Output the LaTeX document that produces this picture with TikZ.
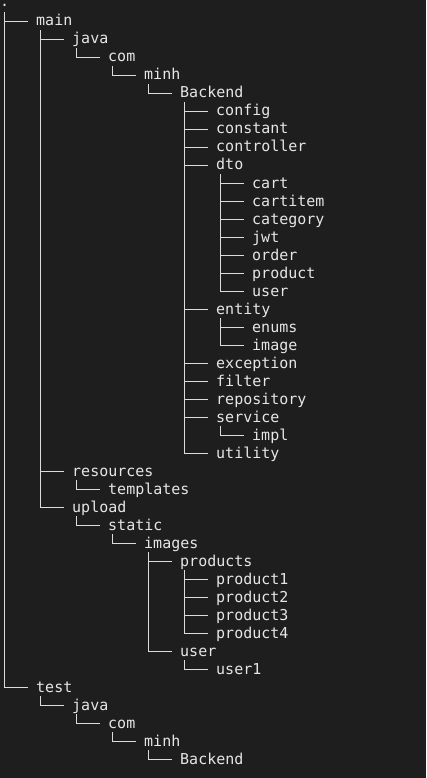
\documentclass[tikz,border=0pt]{standalone}
\usepackage{fontspec}
\newfontfamily\tnfont{DejaVu Sans Mono}
\definecolor{bgc}{HTML}{1E1E1E}
\definecolor{fgc}{HTML}{E6E6E6}
\definecolor{lnc}{HTML}{DCDCDC}
\tikzset{
  tn/.style={anchor=west, inner sep=0pt, text height=13pt, text depth=4pt,
    font=\tnfont\fontsize{15}{18}\selectfont, text=fgc},
  conn/.style={draw=lnc, line width=1.3pt}
}
\newcommand\tnode[5]{%
  \node[tn] (#1) at ({36*#2}, {18*#3+3.5}) {#4};
  \draw[conn] ([xshift=4.5pt]#5.south west) |- ([xshift=-8.5pt]#1.west);}
\begin{document}
\begin{tikzpicture}[x=1pt,y=-1pt]
\fill[bgc] (0,0) rectangle (426,778);
\useasboundingbox (0,0) rectangle (426,778);
\node[tn, anchor=south west, text height=2pt, text depth=5pt] (root) at (0,12) {.};
\tnode{main}{1}{1}{main}{root}
\tnode{java}{2}{2}{java}{main}
\tnode{com}{3}{3}{com}{java}
\tnode{minh}{4}{4}{minh}{com}
\tnode{backend}{5}{5}{Backend}{minh}
\tnode{config}{6}{6}{config}{backend}
\tnode{constant}{6}{7}{constant}{backend}
\tnode{controller}{6}{8}{controller}{backend}
\tnode{dto}{6}{9}{dto}{backend}
\tnode{cart}{7}{10}{cart}{dto}
\tnode{cartitem}{7}{11}{cartitem}{dto}
\tnode{category}{7}{12}{category}{dto}
\tnode{jwt}{7}{13}{jwt}{dto}
\tnode{order}{7}{14}{order}{dto}
\tnode{product}{7}{15}{product}{dto}
\tnode{dtouser}{7}{16}{user}{dto}
\tnode{entity}{6}{17}{entity}{backend}
\tnode{enums}{7}{18}{enums}{entity}
\tnode{image}{7}{19}{image}{entity}
\tnode{exception}{6}{20}{exception}{backend}
\tnode{filter}{6}{21}{filter}{backend}
\tnode{repository}{6}{22}{repository}{backend}
\tnode{service}{6}{23}{service}{backend}
\tnode{impl}{7}{24}{impl}{service}
\tnode{utility}{6}{25}{utility}{backend}
\tnode{resources}{2}{26}{resources}{main}
\tnode{templates}{3}{27}{templates}{resources}
\tnode{upload}{2}{28}{upload}{main}
\tnode{static}{3}{29}{static}{upload}
\tnode{images}{4}{30}{images}{static}
\tnode{products}{5}{31}{products}{images}
\tnode{producta}{6}{32}{product1}{products}
\tnode{productb}{6}{33}{product2}{products}
\tnode{productc}{6}{34}{product3}{products}
\tnode{productd}{6}{35}{product4}{products}
\tnode{upuser}{5}{36}{user}{images}
\tnode{userone}{6}{37}{user1}{upuser}
\tnode{test}{1}{38}{test}{root}
\tnode{tjava}{2}{39}{java}{test}
\tnode{tcom}{3}{40}{com}{tjava}
\tnode{tminh}{4}{41}{minh}{tcom}
\tnode{tbackend}{5}{42}{Backend}{tminh}
\end{tikzpicture}
\end{document}
